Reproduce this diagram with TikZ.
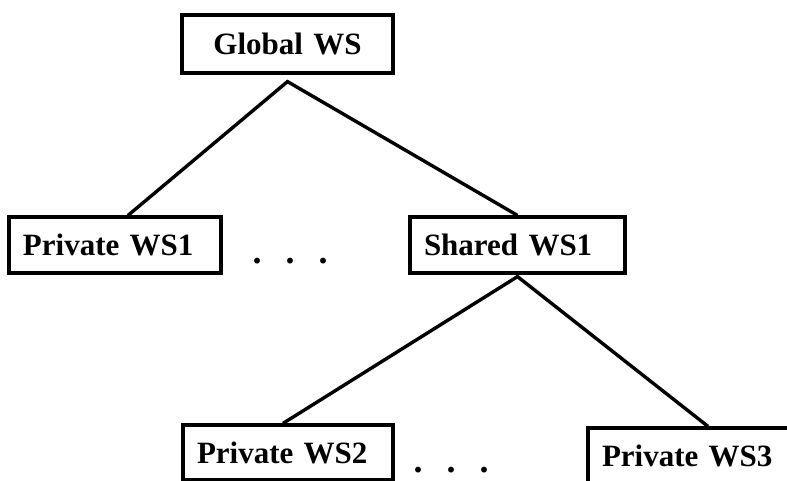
\documentclass[tikz,border=0pt]{standalone}
\usepackage{fontspec}
\setmainfont{Liberation Serif}
\usetikzlibrary{positioning}

\tikzset{
  wsbox/.style={shape=rectangle,draw=black,line width=3.2pt,inner xsep=14pt,inner ysep=0pt,
    minimum height=56pt,align=left,font=\fontsize{31}{31}\selectfont\bfseries},
  wsline/.style={draw=black,line width=3.4pt,line join=miter},
  wsdots/.style={inner sep=0pt,anchor=base west,font=\fontsize{36}{36}\selectfont\bfseries}
}

\begin{document}
\begin{tikzpicture}[x=1pt,y=-1pt]
\useasboundingbox (0,0) rectangle (787,481);
\clip (0,0) rectangle (787,481);

\node[wsbox,align=center,text width=183pt,minimum height=58pt] (gws) at (287.5,44) {Global WS};
\node[wsbox,text width=184pt] (pws1) at (115,245) {Private WS1};
\node[wsbox,text width=187pt] (sws1) at (517.5,245) {Shared WS1};
\node[wsbox,text width=182pt,minimum height=55pt] (pws2) at (288,452.5) {Private WS2};
\node[wsbox,text width=182pt,minimum height=55pt] (pws3) at (693,455.5) {Private WS3};

\node[wsdots] (dots1) at (252.5,263) {.\hspace{24pt}.\hspace{24pt}.};
\node[wsdots] (dots2) at (413.5,472) {.\hspace{24pt}.\hspace{24pt}.};

\coordinate (gapex) at ([yshift=-7pt]gws.south);
\coordinate (sapex) at ([yshift=-2pt]sws1.south);

\path [wsline] ([xshift=13pt]pws1.north) -- (gapex) -- (sws1.north);
\path [wsline] ([xshift=-5pt]pws2.north) -- (sapex) -- ([xshift=15pt]pws3.north);
\end{tikzpicture}
\end{document}
